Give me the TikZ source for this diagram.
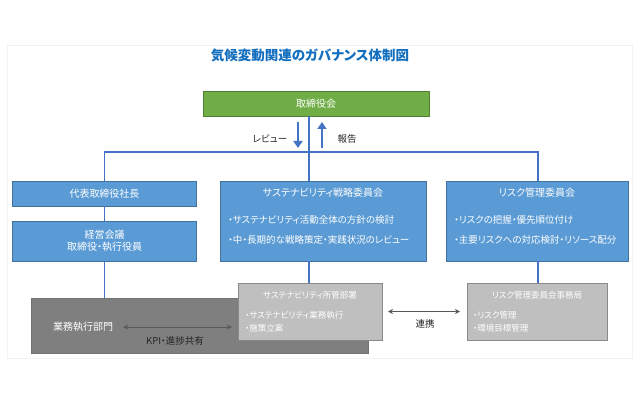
\documentclass[tikz,border=0pt]{standalone}
\usepackage{fontspec}
\setmainfont[RawFeature=+palt]{Noto Sans CJK JP}
\usetikzlibrary{arrows.meta}
\definecolor{titleblue}{RGB}{18,110,190}
\definecolor{linkblue}{RGB}{68,114,196}
\definecolor{boxfill}{RGB}{91,155,213}
\definecolor{boxline}{RGB}{65,113,156}
\definecolor{greenfill}{RGB}{112,173,71}
\definecolor{greenline}{RGB}{80,126,50}
\definecolor{darkfill}{RGB}{127,127,127}
\definecolor{grayfill}{RGB}{191,191,191}
\definecolor{grayline}{RGB}{137,137,137}
\definecolor{arrowgray}{RGB}{89,89,89}

\begin{document}
\begin{tikzpicture}[
	x=1pt, y=-1pt,
	Blue/.style={draw=boxline, fill=boxfill, line width=0.8pt, outer sep=0pt},
	Gray/.style={draw=grayline, fill=grayfill, line width=1pt, outer sep=0pt},
	Head/.style={text=white, inner sep=0pt, font=\fontsize{10}{12.5}\selectfont},
	Item/.style={text=white, inner sep=0pt, anchor=west, font=\fontsize{9.5}{11}\selectfont},
	Small/.style={text=white, inner sep=0pt, font=\fontsize{8.5}{10}\selectfont},
	Note/.style={text=black!85, inner sep=0pt, font=\fontsize{9.5}{11}\selectfont},
	Link/.style={draw=linkblue, line width=1.6pt},
	Flow/.style={draw=linkblue, line width=2.6pt, -{Triangle[length=7pt,width=9pt]}},
	Both/.style={draw=arrowgray, line width=0.9pt, {Stealth[length=5pt,width=5pt]}-{Stealth[length=5pt,width=5pt]}},
	%thick,scale=0.75, every node/.style={scale=0.75}
	]
	\useasboundingbox (0,0) rectangle (638,417);
	\draw[draw=black!5, line width=0.8pt] (7,45) rectangle (632,358);
	
	\node [text=titleblue, font=\fontsize{13.5}{15}\selectfont\bfseries] (title) at (310,55) {気候変動関連のガバナンス体制図};
	
	\node [draw=greenline, fill=greenfill, line width=0.8pt, minimum width=226pt, minimum height=25pt,
	outer sep=0pt, text=white, font=\fontsize{10}{12}\selectfont] (g) at (316,103.5) {取締役会};
	
	\coordinate (j) at (309,152);
	\coordinate (jl) at (104.5,152);
	\coordinate (jr) at (538,152);
	
	% review / report
	\coordinate (d1) at (298,122);
	\coordinate (d2) at (298,148);
	\coordinate (u1) at (322,148);
	\coordinate (u2) at (322,122);
	\draw[Flow] (d1) -- (d2);
	\draw[Flow] (u1) -- (u2);
	\node [Note] (rev) at (270,139) {レビュー};
	\node [Note] (rep) at (347,139) {報告};
	
	% left column
	\node [Blue, minimum width=184pt, minimum height=25pt] (l1) at (104.5,193.5) {};
	\node [Head] (l1t) at (l1) {代表取締役社長};
	\node [Blue, minimum width=184pt, minimum height=40pt] (l2) at (104.5,241) {};
	\node [Head, align=center] (l2t) at (l2) {経営会議\\取締役・執行役員};
	
	% middle column
	\node [Blue, minimum width=206pt, minimum height=80pt] (m1) at (323,221) {};
	\node [Head] (m1t) at (323,193) {サステナビリティ戦略委員会};
	\node [Item] (m1a) at (228,220) {・サステナビリティ活動全体の方針の検討};
	\node [Item] (m1b) at (228,240) {・中・長期的な戦略策定・実践状況のレビュー};
	
	% right column
	\node [Blue, minimum width=182pt, minimum height=80pt] (r1) at (537,221) {};
	\node [Head] (r1t) at (537,193) {リスク管理委員会};
	\node [Item] (r1a) at (454,220) {・リスクの把握・優先順位付け};
	\node [Item] (r1b) at (454,240) {・主要リスクへの対応検討・リソース配分};
	
	\draw[Link] (g.south -| j) -- (m1.north -| j);
	\draw[Link] (l1.north) -- (jl) -- (jr) -- (r1.north -| jr);
	\draw[Link] (l1.south) -- (l2.north);
	
	% bottom row
	\node [draw=darkfill!90!black, fill=darkfill, line width=0.8pt, minimum width=337pt, minimum height=55pt,
	outer sep=0pt] (d) at (199.5,325.5) {};
	\node [Head] (dt) at (83,327) {業務執行部門};
	\draw[Link] (l2.south) -- (d.north -| l2.south);
	
	\node [Gray, minimum width=144pt, minimum height=57pt] (m2) at (310,311.5) {};
	\node [Small] (m2t) at (310,295) {サステナビリティ所管部署};
	\node [Small, anchor=west] (m2a) at (245,315) {・サステナビリティ業務執行};
	\node [Small, anchor=west] (m2b) at (245,328) {・施策立案};
	\draw[Link] (m1.south -| j) -- (m2.north -| j);
	
	\node [Gray, minimum width=140pt, minimum height=57pt] (r2) at (537,311.5) {};
	\node [Small] (r2t) at (537,295) {リスク管理委員会事務局};
	\node [Small, anchor=west] (r2a) at (473,315) {・リスク管理};
	\node [Small, anchor=west] (r2b) at (473,328) {・環境目標管理};
	\draw[Link] (r1.south -| jr) -- (r2.north -| jr);
	
	\draw[Both] ([xshift=10pt]dt.east) -- ([xshift=-6pt]dt.east -| m2.west);
	\node [Note] (kpi) at (175,341) {KPI・進捗共有};
	\draw[Both] ([xshift=6pt]m2.east) -- ([xshift=-7pt]r2.west);
	\node [Note] (ren) at (425,324) {連携};
\end{tikzpicture}
\end{document}
